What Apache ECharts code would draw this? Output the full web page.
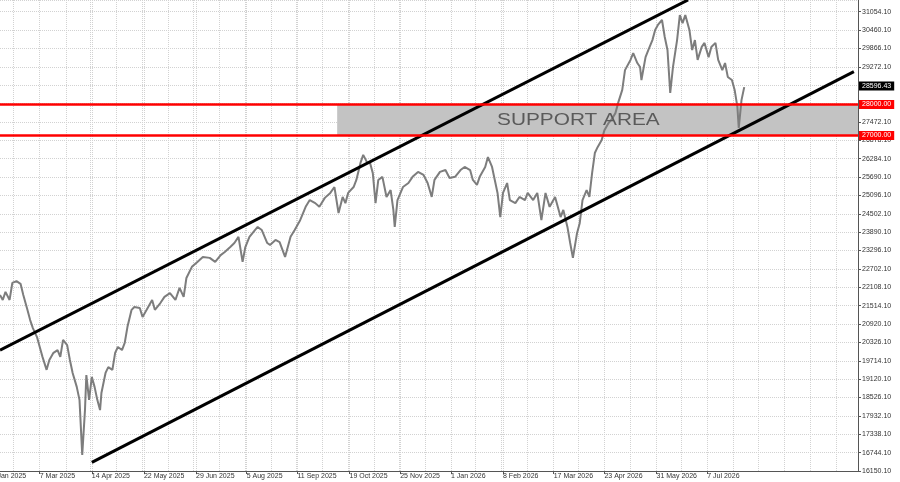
<!DOCTYPE html>
<html><head><meta charset="utf-8">
<script src="https://cdn.jsdelivr.net/npm/echarts@6/dist/echarts.min.js"></script>
<style>html,body{margin:0;padding:0;background:#fff}#c{width:900px;height:482px}</style>
</head><body><div id="c"></div>
<script>
// ---------- data ----------
const startDate = '2025-02-06';
const endDate = '2026-10-25';
const xTickDates = ['2025-03-07','2025-04-14','2025-05-22','2025-06-29','2025-08-05','2025-09-11','2025-10-19','2025-11-25','2026-01-01','2026-02-08','2026-03-17','2026-04-23','2026-05-31','2026-07-07'];
const xTickLabels = ['7 Mar 2025','14 Apr 2025','22 May 2025','29 Jun 2025','5 Aug 2025','11 Sep 2025','19 Oct 2025','25 Nov 2025','1 Jan 2026','8 Feb 2026','17 Mar 2026','23 Apr 2026','31 May 2026','7 Jul 2026'];
const prevTickLabel = '29 Jan 2025';
const yMin = 16150.1, yStep = 594, yMax = 31377;
const yTickLabels = ['16150.10','16744.10','17338.10','17932.10','18526.10','19120.10','19714.10','20326.10','20920.10','21514.10','22108.10','22702.10','23296.10','23890.10','24502.10','25096.10','25690.10','26284.10','26878.10','27472.10','','','29272.10','29866.10','30460.10','31054.10'];

const priceDates = ['2025-02-06','2025-02-08','2025-02-10','2025-02-13','2025-02-15','2025-02-18','2025-02-21','2025-02-23','2025-02-26','2025-02-28',
'2025-03-02','2025-03-05','2025-03-07','2025-03-09','2025-03-12','2025-03-14','2025-03-17','2025-03-20','2025-03-22','2025-03-24','2025-03-27','2025-03-29','2025-03-31',
'2025-04-03','2025-04-05','2025-04-07','2025-04-09','2025-04-10','2025-04-12','2025-04-14','2025-04-16','2025-04-18','2025-04-20','2025-04-21','2025-04-24','2025-04-26','2025-04-29',
'2025-05-01','2025-05-03','2025-05-06','2025-05-08','2025-05-10','2025-05-13','2025-05-15','2025-05-19','2025-05-21','2025-05-24','2025-05-28','2025-05-30',
'2025-06-03','2025-06-06','2025-06-10','2025-06-14','2025-06-17','2025-06-20','2025-06-22','2025-06-26','2025-06-30',
'2025-07-04','2025-07-09','2025-07-13','2025-07-17','2025-07-20','2025-07-24','2025-07-27','2025-07-30',
'2025-08-02','2025-08-04','2025-08-07','2025-08-11','2025-08-13','2025-08-16','2025-08-20','2025-08-22','2025-08-26','2025-08-29',
'2025-09-02','2025-09-06','2025-09-09','2025-09-13','2025-09-17','2025-09-20','2025-09-24','2025-09-27',
'2025-10-01','2025-10-05','2025-10-08','2025-10-11','2025-10-14','2025-10-16','2025-10-18','2025-10-22','2025-10-24','2025-10-27','2025-10-29',
'2025-11-01','2025-11-03','2025-11-05','2025-11-07','2025-11-09','2025-11-12','2025-11-15','2025-11-18','2025-11-20','2025-11-21','2025-11-23','2025-11-27',
'2025-12-01','2025-12-04','2025-12-08','2025-12-12','2025-12-15','2025-12-18','2025-12-20','2025-12-24','2025-12-28','2025-12-31',
'2026-01-04','2026-01-08','2026-01-11','2026-01-15','2026-01-17','2026-01-20','2026-01-22','2026-01-26','2026-01-28','2026-01-31',
'2026-02-02','2026-02-04','2026-02-06','2026-02-08','2026-02-11','2026-02-13','2026-02-17','2026-02-20','2026-02-24','2026-02-26',
'2026-03-02','2026-03-05','2026-03-08','2026-03-11','2026-03-14','2026-03-18','2026-03-22','2026-03-24','2026-03-27','2026-03-29','2026-03-31',
'2026-04-03','2026-04-05','2026-04-07','2026-04-10','2026-04-12','2026-04-14','2026-04-16','2026-04-18','2026-04-21','2026-04-23','2026-04-26','2026-04-28',
'2026-05-01','2026-05-03','2026-05-06','2026-05-08','2026-05-12','2026-05-14','2026-05-17','2026-05-19','2026-05-20','2026-05-23','2026-05-25','2026-05-28','2026-05-30',
'2026-06-01','2026-06-04','2026-06-06','2026-06-08','2026-06-10','2026-06-12','2026-06-15','2026-06-17','2026-06-19','2026-06-21','2026-06-24','2026-06-26','2026-06-28','2026-06-30',
'2026-07-03','2026-07-05','2026-07-08','2026-07-10','2026-07-13','2026-07-15','2026-07-18','2026-07-20','2026-07-22','2026-07-25','2026-07-27','2026-07-29','2026-07-30',
'2026-08-01','2026-08-03'];
const priceValues = [21840,21680,21940,21680,22230,22290,22200,21840,21360,21030,
20770,20480,20160,19840,19420,19740,19970,20060,19840,20390,20220,19740,19320,
18870,18450,16670,18120,19250,18450,19190,18870,18450,18120,18670,19320,19510,19420,
19970,20160,20060,20290,20810,21360,21450,21420,21130,21360,21680,21360,
21580,21780,21900,21680,22070,21780,22390,22750,22910,
23070,23040,22910,23130,23230,23390,23520,23720,
22910,23390,23720,23940,24040,23940,23520,23460,23620,23550,
23070,23720,23940,24260,24690,24910,24810,24690,
24980,25140,25330,24490,25010,24810,25140,25330,25560,26110,26370,
26110,26110,25780,24810,25560,25660,25010,25230,24590,24040,24910,25330,
25460,25660,25820,25720,25460,25010,25560,25820,25880,25620,
25660,25880,25980,25880,25560,25400,25660,25980,26300,25980,
25560,25140,24360,25140,25460,24910,24810,25010,24910,25140,
24910,25140,24260,25140,24690,25010,24360,24590,24040,23520,23040,
23840,24170,24910,25230,25010,25780,26430,26620,26850,27170,27400,27500,
27720,28050,28470,29110,29440,29660,29340,29210,28790,29530,29760,30080,30410,
30570,30730,30180,29760,28370,29210,30080,30890,30630,30890,30410,29760,30080,29440,
29860,29990,29530,29860,29990,29440,29110,29340,28890,28790,28470,27920,27240,
28140,28560];

const upperChannelDates = ['2025-02-06','2026-06-23'];
const upperChannelValues = [20060, 31380];
const lowerChannelDates = ['2025-04-14','2026-10-22'];
const lowerChannelValues = [16430, 29060];

const supportLevels = [28000, 27000];
const supportLabels = ['28000.00', '27000.00'];
const supportStart = '2025-10-10';
const supportText = 'SUPPORT AREA';
const supportTextDate = '2026-04-04';
const supportTextValue = 27480;

const lastPrice = 28596.43;
const lastPriceLabel = '28596.43';

// ---------- build ----------
const cats = [];
for (let t = Date.parse(startDate + 'T00:00:00Z'); t <= Date.parse(endDate + 'T00:00:00Z'); t += 86400000) {
  cats.push(new Date(t).toISOString().slice(0, 10));
}
const tickIdx = xTickDates.map(d => cats.indexOf(d));
const tickSet = new Set(tickIdx);
const labelMap = {};
xTickDates.forEach((d, i) => labelMap[d] = xTickLabels[i]);
const gridSet = new Set(tickIdx);
const halfStep = (tickIdx[tickIdx.length - 1] - tickIdx[0]) / (tickIdx.length - 1) / 2;
for (let k = -1; tickIdx[0] + k * halfStep < cats.length; k++) {
  const v = Math.round(tickIdx[0] + k * halfStep);
  if (v >= 0 && v < cats.length) gridSet.add(v);
}

const zip = (a, b) => a.map((d, i) => [d, b[i]]);
const FONT = 'Liberation Sans';
const gridColor = '#d2d2d2';

const chart = echarts.init(document.getElementById('c'), null, { renderer: 'canvas' });
chart.setOption({
  animation: false,
  backgroundColor: '#ffffff',
  grid: { left: 0, right: 42, top: 0, bottom: 11, containLabel: false },
  xAxis: {
    type: 'category', data: cats, boundaryGap: false,
    axisLine: { show: true, lineStyle: { color: '#555', width: 1 } },
    axisTick: { show: true, length: 3, interval: (i) => tickSet.has(i), lineStyle: { color: '#555' } },
    axisLabel: { interval: (i) => tickSet.has(i), formatter: (v) => labelMap[v] || '', fontSize: 7, fontFamily: FONT, color: '#333', align: 'left', margin: 2 },
    splitLine: { show: true, interval: (i) => gridSet.has(i), lineStyle: { type: 'dotted', color: gridColor, width: 1 } }
  },
  yAxis: {
    type: 'value', position: 'right', min: yMin, max: yMax, interval: yStep, scale: true,
    axisLine: { show: true, lineStyle: { color: '#555', width: 1 } },
    axisTick: { show: true, length: 3, lineStyle: { color: '#555' } },
    axisLabel: {
      fontSize: 7, fontFamily: FONT, color: '#333', margin: 4, showMaxLabel: false,
      formatter: (v) => {
        const k = Math.round((v - yMin) / yStep);
        if (Math.abs(yMin + k * yStep - v) > 1) return '';
        return yTickLabels[k] || '';
      }
    },
    splitLine: { show: true, lineStyle: { type: 'dotted', color: gridColor, width: 1 } }
  },
  series: [
    {
      type: 'line', data: [], z: 1, silent: true,
      markArea: {
        silent: true, itemStyle: { color: '#c3c3c3' },
        data: [[{ xAxis: supportStart, yAxis: supportLevels[1] }, { xAxis: endDate, yAxis: supportLevels[0] }]]
      }
    },
    {
      type: 'line', data: zip(priceDates, priceValues), z: 2, symbol: 'none', silent: true,
      lineStyle: { color: '#7d7d7d', width: 2 }
    },
    {
      type: 'line', data: zip(upperChannelDates, upperChannelValues), z: 3, symbol: 'none', silent: true,
      lineStyle: { color: '#000', width: 3 }
    },
    {
      type: 'line', data: zip(lowerChannelDates, lowerChannelValues), z: 3, symbol: 'none', silent: true,
      lineStyle: { color: '#000', width: 3 }
    },
    {
      type: 'line', data: [], z: 5, silent: true,
      markLine: {
        silent: true, symbol: ['none', 'none'], animation: false,
        lineStyle: { color: '#ff0000', width: 2.5, type: 'solid' },
        label: { position: 'end', distance: 1, color: '#fff', backgroundColor: '#ff0000', fontSize: 7, fontFamily: FONT, padding: [1, 3, 1, 3] },
        emphasis: { disabled: true },
        data: supportLevels.map((v, i) => ({ yAxis: v, label: { formatter: supportLabels[i] } }))
      }
    },
    {
      type: 'line', data: [], z: 5, silent: true,
      markLine: {
        silent: true, symbol: ['none', 'none'], animation: false,
        lineStyle: { color: 'rgba(0,0,0,0)', width: 1, type: 'solid' },
        label: { show: true, position: 'end', distance: 1, color: '#fff', backgroundColor: '#000', fontSize: 7, fontFamily: FONT, padding: [1, 3, 1, 3], formatter: lastPriceLabel },
        emphasis: { disabled: true },
        data: [{ yAxis: lastPrice }]
      }
    }
  ]
});

const tp = chart.convertToPixel({ xAxisIndex: 0, yAxisIndex: 0 }, [cats.indexOf(supportTextDate), supportTextValue]);
const p0 = chart.convertToPixel({ xAxisIndex: 0 }, tickIdx[0]);
const p1 = chart.convertToPixel({ xAxisIndex: 0 }, tickIdx[1]);
const axisY = chart.convertToPixel({ yAxisIndex: 0 }, yMin);
chart.setOption({
  graphic: [
    { type: 'text', x: tp[0], y: tp[1], scaleX: 1.3, z: 10, silent: true,
      style: { text: supportText, font: '16px "Liberation Sans"', fill: '#5a5a5a', align: 'center', verticalAlign: 'middle' } },
    { type: 'text', x: p0 - (p1 - p0), y: axisY + 2, z: 10, silent: true,
      style: { text: prevTickLabel, font: '7px "Liberation Sans"', fill: '#333', align: 'left', verticalAlign: 'top' } }
  ]
});
</script>
</body></html>
